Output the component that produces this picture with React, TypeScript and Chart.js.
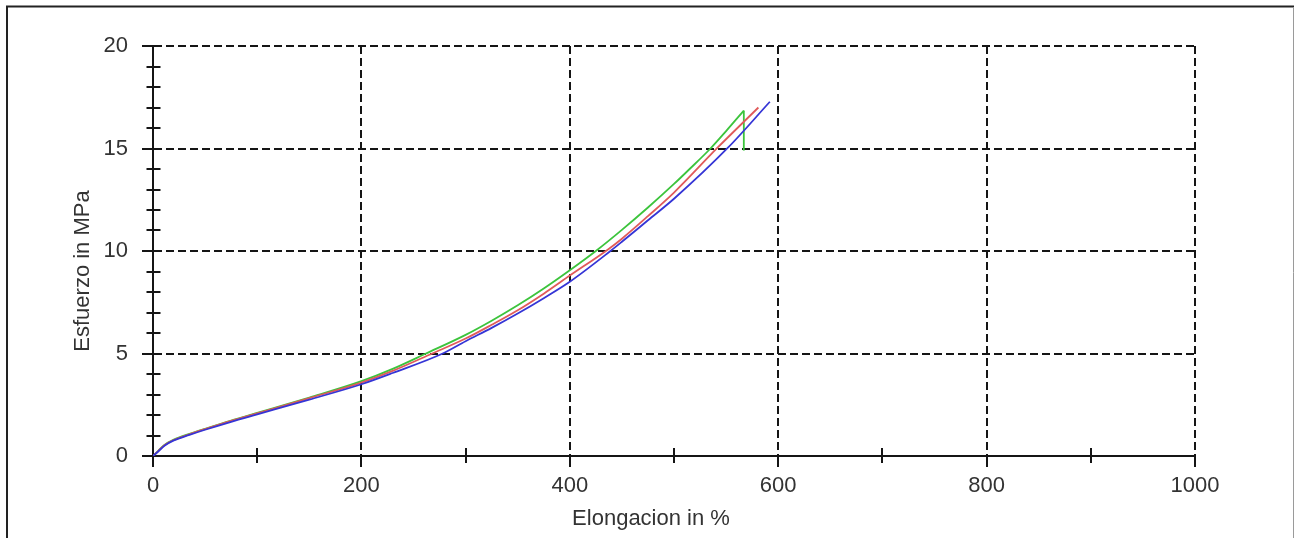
import React, { useEffect, useRef } from 'react';
import { Chart, registerables } from 'chart.js';

Chart.register(...registerables);

// ---- Data ----
const greenX = [0, 5, 11, 20, 35, 50, 75, 100, 150, 200, 230, 262, 300, 325, 350, 375, 400, 425, 450, 475, 500, 515, 535, 550, 567];
const greenY = [0, 0.25, 0.54, 0.8, 1.08, 1.33, 1.73, 2.1, 2.85, 3.65, 4.25, 5.0, 5.91, 6.6, 7.35, 8.17, 9.06, 10.0, 11.03, 12.12, 13.27, 14.0, 15.0, 15.85, 16.85];
const greenDropX = [567, 567];
const greenDropY = [16.85, 14.9];

const redX = [0, 5, 11, 20, 35, 50, 75, 100, 150, 200, 230, 268, 300, 325, 350, 375, 400, 436, 450, 475, 500, 542, 581];
const redY = [0, 0.24, 0.53, 0.78, 1.06, 1.31, 1.71, 2.08, 2.82, 3.58, 4.15, 5.0, 5.73, 6.4, 7.11, 7.92, 8.8, 10.05, 10.6, 11.7, 12.85, 15.05, 17.0];

const blueX = [0, 5, 11, 20, 35, 50, 75, 100, 150, 200, 230, 278, 300, 325, 350, 375, 400, 439, 450, 475, 500, 552, 592];
const blueY = [0, 0.22, 0.5, 0.76, 1.03, 1.28, 1.67, 2.03, 2.75, 3.5, 4.05, 5.0, 5.6, 6.25, 6.95, 7.7, 8.5, 10.0, 10.45, 11.5, 12.55, 15.05, 17.28];

const xMin = 0;
const xMax = 1000;
const xStep = 100;
const xLabelEvery = 200;
const yMin = 0;
const yMax = 20;
const yStep = 1;
const yLabelEvery = 5;

const xTitle = 'Elongacion in %';
const yTitle = 'Esfuerzo in MPa';

const FONT = "'Liberation Sans', Arial, Helvetica, sans-serif";
const INK = '#151515';
const TEXT = '#333333';

const toPts = (xs: number[], ys: number[]) => xs.map((x, i) => ({ x, y: ys[i] }));

const decorPlugin = {
  id: 'decor',
  beforeDraw(chart: any) {
    const ctx = chart.ctx;
    ctx.save();
    ctx.fillStyle = '#ffffff';
    ctx.fillRect(0, 0, chart.width, chart.height);
    ctx.strokeStyle = '#222';
    ctx.lineWidth = 2;
    ctx.beginPath();
    ctx.moveTo(6, 6.5);
    ctx.lineTo(chart.width, 6.5);
    ctx.moveTo(7, 6);
    ctx.lineTo(7, chart.height);
    ctx.stroke();
    ctx.strokeStyle = '#9a9a9a';
    ctx.lineWidth = 1;
    ctx.beginPath();
    ctx.moveTo(1293.5, 7);
    ctx.lineTo(1293.5, chart.height);
    ctx.stroke();
    ctx.restore();
  },
  afterDraw(chart: any) {
    const ctx = chart.ctx;
    const xs = chart.scales.x;
    const ys = chart.scales.y;
    const area = chart.chartArea;
    ctx.save();
    ctx.strokeStyle = INK;
    ctx.lineWidth = 2;
    ctx.beginPath();
    for (let v = yMin + yStep; v < yMax; v += yStep) {
      if (v % yLabelEvery === 0) continue;
      const py = Math.round(ys.getPixelForValue(v));
      ctx.moveTo(area.left - 6.5, py);
      ctx.lineTo(area.left + 7.5, py);
    }
    for (let v = xMin + xStep; v < xMax; v += xStep) {
      if (v % xLabelEvery === 0) continue;
      const px = Math.round(xs.getPixelForValue(v));
      ctx.moveTo(px, area.bottom - 8);
      ctx.lineTo(px, area.bottom + 7);
    }
    ctx.stroke();
    ctx.fillStyle = TEXT;
    ctx.font = `22px ${FONT}`;
    ctx.textAlign = 'center';
    ctx.textBaseline = 'alphabetic';
    ctx.fillText(xTitle, 651, 525);
    ctx.translate(89, 271);
    ctx.rotate(-Math.PI / 2);
    ctx.fillText(yTitle, 0, 0);
    ctx.restore();
  },
};

export default function App() {
  const ref = useRef<HTMLCanvasElement | null>(null);

  useEffect(() => {
    if (!ref.current) return;
    Chart.defaults.font.family = FONT;
    const lineBase = {
      pointRadius: 0,
      borderWidth: 1.8,
      fill: false,
      cubicInterpolationMode: 'monotone' as const,
    };
    const chart = new Chart(ref.current, {
      type: 'line',
      data: {
        datasets: [
          { ...lineBase, label: 'Probeta 3', data: toPts(blueX, blueY), borderColor: '#3535d6' },
          { ...lineBase, label: 'Probeta 2', data: toPts(redX, redY), borderColor: '#e05a5a' },
          { ...lineBase, label: 'Probeta 1', data: toPts(greenX, greenY), borderColor: '#3cc43c' },
          { ...lineBase, label: 'Probeta 1 rotura', data: toPts(greenDropX, greenDropY), borderColor: '#3cc43c' },
        ],
      },
      options: {
        animation: false,
        responsive: false,
        maintainAspectRatio: false,
        layout: { padding: { left: 0, top: 46, right: 99, bottom: 0 } },
        plugins: { legend: { display: false }, tooltip: { enabled: false } },
        scales: {
          x: {
            type: 'linear',
            min: xMin,
            max: xMax,
            afterFit: (s: any) => {
              s.height = 82;
            },
            ticks: {
              stepSize: xStep,
              autoSkip: false,
              maxRotation: 0,
              padding: 6,
              color: TEXT,
              font: { family: FONT, size: 22 },
              callback: (v: any) => (Number(v) % xLabelEvery === 0 ? String(v) : ''),
            },
            grid: {
              color: (c: any) => (c.tick && c.tick.value % xLabelEvery === 0 ? INK : 'rgba(0,0,0,0)'),
              tickColor: (c: any) => (c.tick && c.tick.value % xLabelEvery === 0 ? INK : 'rgba(0,0,0,0)'),
              lineWidth: 2,
              tickWidth: 2,
              tickLength: 11,
            },
            border: { display: true, color: INK, width: 2, dash: [8, 4] },
          },
          y: {
            type: 'linear',
            min: yMin,
            max: yMax,
            afterFit: (s: any) => {
              s.width = 153;
            },
            ticks: {
              stepSize: yStep,
              autoSkip: false,
              padding: 14,
              color: TEXT,
              font: { family: FONT, size: 22 },
              callback: (v: any) => (Number(v) % yLabelEvery === 0 ? String(v) : ''),
            },
            grid: {
              color: (c: any) => (c.tick && c.tick.value % yLabelEvery === 0 ? INK : 'rgba(0,0,0,0)'),
              tickColor: (c: any) => (c.tick && c.tick.value % yLabelEvery === 0 ? INK : 'rgba(0,0,0,0)'),
              lineWidth: 2,
              tickWidth: 2,
              tickLength: 11,
            },
            border: { display: true, color: INK, width: 2, dash: [8, 4] },
          },
        },
      },
      plugins: [decorPlugin],
    } as any);
    return () => chart.destroy();
  }, []);

  return (
    <div style={{ position: 'fixed', left: 0, top: 0, width: 1294, height: 538, background: '#fff' }}>
      <canvas ref={ref} width={1294} height={538} style={{ display: 'block', width: 1294, height: 538 }} />
    </div>
  );
}
